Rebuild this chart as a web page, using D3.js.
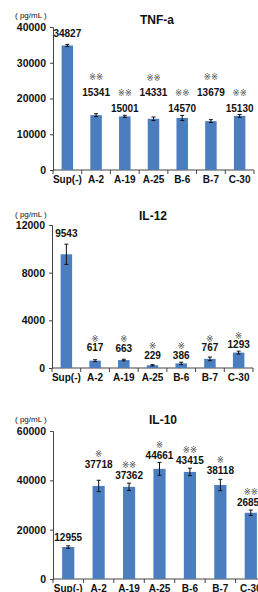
<!DOCTYPE html>
<html>
<head>
<meta charset="utf-8">
<script src="https://cdn.jsdelivr.net/npm/d3@7"></script>
<style>
  body { margin: 0; background: #fff; }
  svg { display: block; font-family: "Liberation Sans", Arial, sans-serif; }
</style>
</head>
<body>
<div id="chart"></div>
<script>
// data
const categories = ["Sup(-)", "A-2", "A-19", "A-25", "B-6", "B-7", "C-30"];

const tnfValues = [34827, 15341, 15001, 14331, 14570, 13679, 15130];
const tnfErrors = [300, 400, 300, 500, 700, 400, 400];
const tnfMarks = ["", "※※", "※※", "※※", "※※", "※※", "※※"];
const tnfTicks = [0, 10000, 20000, 30000, 40000];

const il12Values = [9543, 617, 663, 229, 386, 767, 1293];
const il12Errors = [850, 80, 70, 50, 100, 150, 120];
const il12Marks = ["", "※", "※", "※", "※", "※", "※"];
const il12Ticks = [0, 4000, 8000, 12000];

const il10Values = [12955, 37718, 37362, 44661, 43415, 38118, 26850];
const il10Errors = [500, 2300, 1500, 2600, 1500, 2300, 1100];
const il10Marks = ["", "※", "※※", "※", "※※", "※", "※※"];
const il10Ticks = [0, 20000, 40000, 60000];

const width = 258, height = 592;

const svg = d3.select('#chart')
  .append('svg')
  .attr('width', width)
  .attr('height', height);

// layout for each panel (pixel positions)
const panels = [
  { title: 'TNF-a', values: tnfValues, errors: tnfErrors, marks: tnfMarks, ticks: tnfTicks,
    x0: 53, x1: 254, yTop: 27, yZero: 170, titleX: 157, titleY: 20, unitY: 15,
    lift: [12, 23, 8, 26, 9.5, 29, 7.5], markGap: 15 },
  { title: 'IL-12', values: il12Values, errors: il12Errors, marks: il12Marks, ticks: il12Ticks,
    x0: 52, x1: 253, yTop: 225, yZero: 368, titleX: 153, titleY: 216, unitY: 214,
    lift: [21, 12.7, 12, 10, 8.4, 11, 7.7], markGap: 9 },
  { title: 'IL-10', values: il10Values, errors: il10Errors, marks: il10Marks, ticks: il10Ticks,
    x0: 53, x1: 266, yTop: 431, yZero: 579, titleX: 163, titleY: 420, unitY: 419,
    lift: [9.6, 21.7, 11.6, 13.3, 11.5, 14.7, 10], markGap: 10.5 }
];

panels.forEach(drawPanel);

function drawPanel(p) {
  const g = svg.append('g');

  const x = d3.scaleBand()
    .domain(categories)
    .range([p.x0, p.x1])
    .paddingInner(0.6)
    .paddingOuter(0.3);

  const y = d3.scaleLinear()
    .domain([0, d3.max(p.ticks)])
    .range([p.yZero, p.yTop]);

  // y axis
  const yAxis = g.append('g')
    .attr('transform', `translate(${p.x0},0)`)
    .call(d3.axisLeft(y).tickValues(p.ticks).tickFormat(d3.format('d')).tickSize(3).tickPadding(4));
  yAxis.select('.domain').attr('stroke', '#444');
  yAxis.selectAll('.tick line').attr('stroke', '#444');
  yAxis.selectAll('text')
    .attr('font-size', 10.5)
    .attr('font-weight', 'bold')
    .attr('fill', '#111');

  // x axis - tick marks sit between the categories
  const step = x.step();
  const sepStart = x(categories[0]) - step * x.paddingInner() / 2;
  const xAxis = g.append('g')
    .attr('transform', `translate(0,${p.yZero})`)
    .call(d3.axisBottom(x).tickSize(0).tickPadding(6));
  xAxis.select('.domain').attr('stroke', '#444').attr('d', `M${p.x0},0H${p.x1}`);
  xAxis.selectAll('text')
    .attr('font-size', 10)
    .attr('font-weight', 'bold')
    .attr('fill', '#111');
  xAxis.selectAll('line.sep')
    .data(d3.range(categories.length + 1))
    .join('line')
    .attr('class', 'sep')
    .attr('x1', i => sepStart + i * step)
    .attr('x2', i => sepStart + i * step)
    .attr('y1', 0)
    .attr('y2', 4)
    .attr('stroke', '#444');

  const rows = categories.map((c, i) => ({ c, v: p.values[i], e: p.errors[i], m: p.marks[i], lift: p.lift[i] }));

  // bars
  g.selectAll('rect.bar')
    .data(rows)
    .join('rect')
    .attr('class', 'bar')
    .attr('x', d => x(d.c))
    .attr('y', d => y(d.v))
    .attr('width', x.bandwidth())
    .attr('height', d => y(0) - y(d.v))
    .attr('fill', '#4a7ebf');

  // error bars
  const err = g.selectAll('g.err')
    .data(rows)
    .join('g')
    .attr('class', 'err')
    .attr('transform', d => `translate(${x(d.c) + x.bandwidth() / 2},0)`)
    .attr('stroke', '#111')
    .attr('stroke-width', 1);
  err.append('line').attr('y1', d => y(d.v + d.e)).attr('y2', d => y(d.v - d.e));
  err.append('line').attr('x1', -2).attr('x2', 2).attr('y1', d => y(d.v + d.e)).attr('y2', d => y(d.v + d.e));
  err.append('line').attr('x1', -2).attr('x2', 2).attr('y1', d => y(d.v - d.e)).attr('y2', d => y(d.v - d.e));

  // value labels
  g.selectAll('text.val')
    .data(rows)
    .join('text')
    .attr('class', 'val')
    .attr('x', d => x(d.c) + x.bandwidth() / 2)
    .attr('y', d => y(d.v) - d.lift)
    .attr('dy', '0.35em')
    .attr('text-anchor', 'middle')
    .attr('font-size', 10)
    .attr('font-weight', 'bold')
    .attr('fill', '#111')
    .text(d => d.v);

  // significance marks
  g.selectAll('text.mark')
    .data(rows.filter(d => d.m))
    .join('text')
    .attr('class', 'mark')
    .attr('x', d => x(d.c) + x.bandwidth() / 2)
    .attr('y', d => y(d.v) - d.lift - p.markGap)
    .attr('dy', '0.35em')
    .attr('text-anchor', 'middle')
    .attr('font-size', 8.5)
    .attr('font-family', '"DejaVu Sans", "Noto Sans CJK JP", sans-serif')
    .attr('fill', '#444')
    .text(d => d.m);

  // title and unit
  g.append('text')
    .attr('x', p.titleX)
    .attr('y', p.titleY)
    .attr('dy', '0.35em')
    .attr('text-anchor', 'middle')
    .attr('font-size', 12)
    .attr('font-weight', 'bold')
    .attr('fill', '#111')
    .text(p.title);

  g.append('text')
    .attr('x', 15)
    .attr('y', p.unitY)
    .attr('dy', '0.35em')
    .attr('font-size', 8)
    .attr('fill', '#111')
    .text('( pg/mL )');
}
</script>
</body>
</html>
